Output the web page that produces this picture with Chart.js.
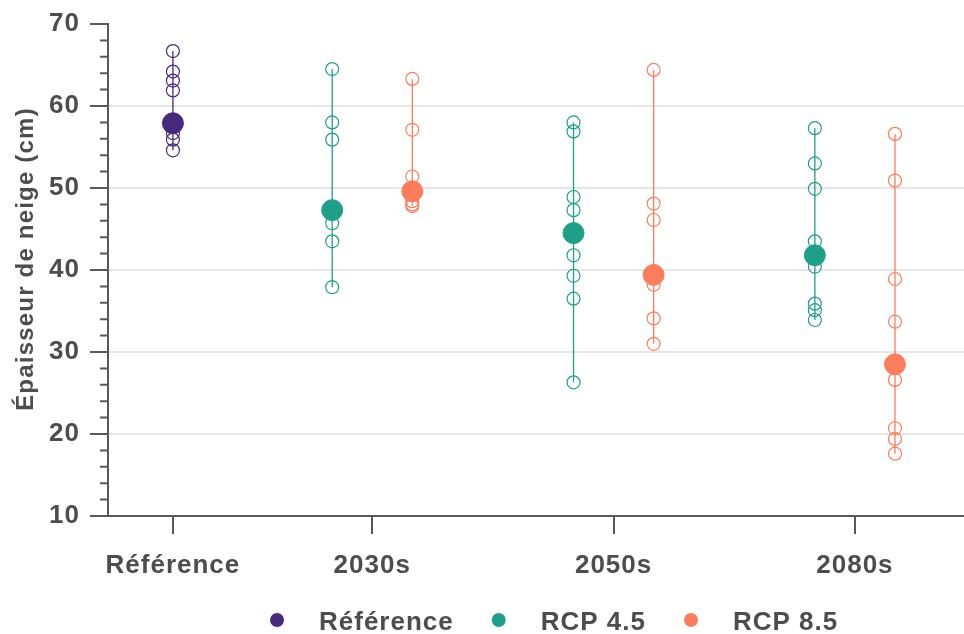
<!DOCTYPE html>
<html>
<head>
<meta charset="utf-8">
<script src="https://cdn.jsdelivr.net/npm/chart.js@4.4.1/dist/chart.umd.min.js"></script>
<style>html, body { margin: 0; background: #fff; }</style>
</head>
<body>
<canvas id="myChart" width="964" height="634"></canvas>
<script>
'use strict';

const categories = ['Référence', '2030s', '2050s', '2080s'];
// where each category sits on the (linear) x axis
const categoryPos = [1.174, 2, 3, 4];
const dodge = 0.166;

// snow depth (cm), one value per climate model
const refModels = [66.7, 64.2, 63.1, 61.9, 57.7, 56.7, 55.9, 54.6];
const refMean = 57.9;

const rcp45Models = [
  [64.5, 58.0, 55.9, 47.5, 47.0, 45.7, 43.5, 37.9],
  [58.0, 56.9, 48.9, 47.3, 41.8, 39.3, 36.5, 26.3],
  [57.3, 53.0, 49.9, 43.5, 40.4, 35.9, 35.1, 33.9]
];
const rcp45Mean = [47.3, 44.5, 41.8];

const rcp85Models = [
  [63.3, 57.1, 51.4, 49.8, 49.4, 48.4, 48.0, 47.8],
  [64.4, 48.1, 46.1, 39.6, 39.2, 38.2, 34.1, 31.0],
  [56.6, 50.9, 38.9, 33.7, 26.6, 20.7, 19.4, 17.6]
];
const rcp85Mean = [49.6, 39.4, 28.5];

const yTickLabels = [10, 20, 30, 40, 50, 60, 70];
const seriesNames = ['Référence', 'RCP 4.5', 'RCP 8.5'];

const purple = '#472a7a';
const teal = '#1f9e89';
const salmon = '#fc7d5c';
const inkColor = '#4d4d4d';
const axisColor = '#595959';
const fontFamily = '"Liberation Sans", Arial, sans-serif';

// x positions of the three groups
const refX = [categoryPos[0]];
const rcp45X = categoryPos.slice(1).map(p => p - dodge);
const rcp85X = categoryPos.slice(1).map(p => p + dodge);

function points(xs, groups) {
  let out = [];
  groups.forEach((vals, i) => vals.forEach(v => out.push({x: xs[i], y: v})));
  return out;
}

// one vertical segment min..max per group, separated by gaps
function ranges(xs, groups) {
  let out = [];
  groups.forEach((vals, i) => {
    out.push({x: xs[i], y: Math.max(...vals)});
    out.push({x: xs[i], y: Math.min(...vals)});
    out.push({x: xs[i], y: null});
  });
  return out;
}

function meanSet(label, color, xs, means) {
  return {
    label: label,
    data: means.map((v, i) => ({x: xs[i], y: v})),
    pointRadius: 10.5,
    backgroundColor: color,
    borderColor: color,
    borderWidth: 1
  };
}

function modelSet(color, xs, groups) {
  return {
    label: '_models',
    data: points(xs, groups),
    pointRadius: 6.5,
    backgroundColor: 'rgba(0,0,0,0)',
    borderColor: color,
    borderWidth: 1.2
  };
}

function rangeSet(color, xs, groups) {
  return {
    label: '_range',
    data: ranges(xs, groups),
    showLine: true,
    spanGaps: false,
    pointRadius: 0,
    borderColor: color,
    borderWidth: 1.3
  };
}

function noPadding(s) {
  s.paddingTop = 0;
  s.paddingBottom = 0;
  s.paddingLeft = 0;
  s.paddingRight = 0;
}

// the reference text is set a little wider than plain Arial bold
const spacingPlugin = {
  id: 'spacing',
  beforeUpdate(chart) { chart.ctx.letterSpacing = '1px'; },
  beforeDraw(chart) { chart.ctx.letterSpacing = '1px'; }
};

const axesPlugin = {
  id: 'axes',
  beforeDatasetsDraw(chart) {
    const {ctx, chartArea: a, scales: {y}} = chart;
    ctx.save();
    ctx.strokeStyle = axisColor;
    ctx.lineWidth = 2;
    ctx.beginPath();
    ctx.moveTo(a.left, a.bottom);
    ctx.lineTo(a.right, a.bottom);
    ctx.moveTo(a.left, a.top - 1);
    ctx.lineTo(a.left, a.bottom + 1);
    y.ticks.forEach(t => {
      const py = y.getPixelForValue(t.value);
      const len = yTickLabels.includes(t.value) ? 18 : 8;
      ctx.moveTo(a.left - len, py);
      ctx.lineTo(a.left, py);
    });
    ctx.stroke();

    // y axis title
    ctx.translate(26, 259);
    ctx.rotate(-Math.PI / 2);
    ctx.font = 'bold 24px ' + fontFamily;
    ctx.letterSpacing = '1.2px';
    ctx.fillStyle = inkColor;
    ctx.textAlign = 'center';
    ctx.textBaseline = 'middle';
    ctx.fillText('Épaisseur de neige (cm)', 0, 0);
    ctx.restore();
  }
};

// legend drawn by hand so the dot / text spacing matches
const legendPlugin = {
  id: 'dotLegend',
  afterDraw(chart) {
    const ctx = chart.ctx;
    const colors = [purple, teal, salmon];
    ctx.save();
    ctx.font = 'bold 26px ' + fontFamily;
    ctx.letterSpacing = '1px';
    ctx.textBaseline = 'middle';
    let cx = 277;
    seriesNames.forEach((text, i) => {
      ctx.fillStyle = colors[i];
      ctx.beginPath();
      ctx.arc(cx, 620, 7, 0, Math.PI * 2);
      ctx.fill();
      ctx.fillStyle = inkColor;
      ctx.fillText(text, cx + 42, 623);
      cx += 42 + ctx.measureText(text).width + 45;
    });
    ctx.restore();
  }
};

new Chart(document.getElementById('myChart'), {
  type: 'scatter',
  data: {
    datasets: [
      meanSet(seriesNames[0], purple, refX, [refMean]),
      meanSet(seriesNames[1], teal, rcp45X, rcp45Mean),
      meanSet(seriesNames[2], salmon, rcp85X, rcp85Mean),
      modelSet(purple, refX, [refModels]),
      modelSet(teal, rcp45X, rcp45Models),
      modelSet(salmon, rcp85X, rcp85Models),
      rangeSet(purple, refX, [refModels]),
      rangeSet(teal, rcp45X, rcp45Models),
      rangeSet(salmon, rcp85X, rcp85Models)
    ]
  },
  plugins: [spacingPlugin, axesPlugin, legendPlugin],
  options: {
    responsive: false,
    devicePixelRatio: 1,
    animation: false,
    events: [],
    clip: false,
    layout: { autoPadding: false, padding: { top: 24, right: 0, bottom: 0, left: 0 } },
    plugins: {
      legend: { display: false },
      tooltip: { enabled: false }
    },
    scales: {
      x: {
        type: 'linear',
        min: 0.905,
        max: 4.452,
        afterBuildTicks: s => { s.ticks = categoryPos.map(v => ({value: v})); },
        afterFit: s => { s.height = 118; noPadding(s); },
        ticks: {
          autoSkip: false,
          maxRotation: 0,
          padding: 16,
          color: inkColor,
          font: { family: fontFamily, size: 26, weight: 'bold' },
          callback: (v, i) => categories[i]
        },
        grid: { drawOnChartArea: false, drawTicks: true, tickLength: 18, color: axisColor, lineWidth: 2 },
        border: { display: false }
      },
      y: {
        min: 10,
        max: 70,
        afterFit: s => { s.width = 108; noPadding(s); },
        ticks: {
          stepSize: 2,
          autoSkip: false,
          padding: 28,
          color: inkColor,
          font: { family: fontFamily, size: 26, weight: 'bold' },
          callback: v => yTickLabels.includes(v) ? v : ''
        },
        grid: {
          drawTicks: false,
          lineWidth: 2,
          color: c => (yTickLabels.includes(c.tick.value) && c.tick.value > 10 && c.tick.value < 70) ? '#e6e6e6' : 'rgba(0,0,0,0)'
        },
        border: { display: false }
      }
    }
  }
});
</script>
</body>
</html>
